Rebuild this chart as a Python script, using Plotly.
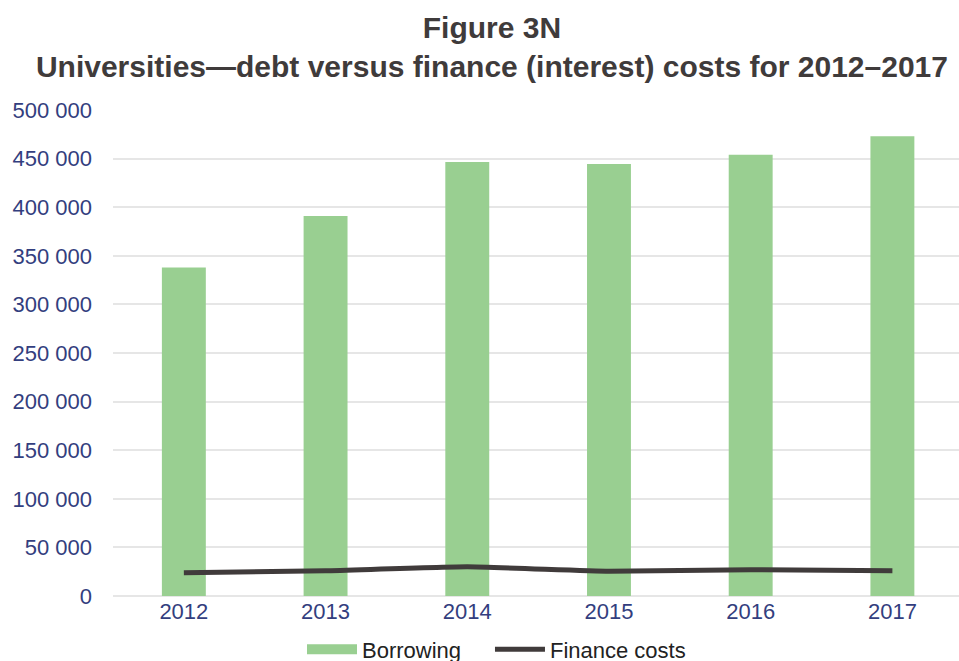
import plotly.graph_objects as go

years = ["2012", "2013", "2014", "2015", "2016", "2017"]
borrowing = [338000, 391000, 446500, 444500, 454000, 473000]
finance_costs = [24000, 26000, 30000, 25500, 27000, 26000]

y_ticks = [0, 50000, 100000, 150000, 200000, 250000, 300000, 350000, 400000, 450000, 500000]

tick_color = "#333E7E"
title_color = "#3F3B3B"
bar_color = "#99CF91"
line_color = "#403B3B"
font_family = "Liberation Sans, Arial, sans-serif"

fig = go.Figure()
fig.add_trace(go.Bar(
    x=years, y=borrowing, name="Borrowing", legendgroup="borrowing",
    showlegend=False,
    marker=dict(color=bar_color, line=dict(width=0)),
))
# Wide swatch for the bar series in the legend
fig.add_trace(go.Scatter(
    x=[None], y=[None], name="Borrowing", legendgroup="borrowing",
    mode="lines", line=dict(color=bar_color, width=16), legend="legend",
))
fig.add_trace(go.Scatter(
    x=years, y=finance_costs, name="Finance costs", mode="lines",
    line=dict(color=line_color, width=5, shape="spline", smoothing=0.4),
    legend="legend2",
))

legend_style = dict(
    orientation="h", xanchor="left", y=-0.11, yanchor="middle",
    font=dict(family=font_family, size=22, color="#222222"),
    bgcolor="rgba(0,0,0,0)", itemwidth=50,
)

fig.update_layout(
    width=959, height=661,
    margin=dict(l=113, r=0, t=110, b=65, autoexpand=False),
    paper_bgcolor="white", plot_bgcolor="white",
    separators=". ",
    font=dict(family=font_family, size=22, color=tick_color),
    title=dict(
        text="<b>Figure 3N<br>Universities—debt versus finance (interest) costs for 2012–2017</b>",
        x=0.513, xanchor="center", xref="container",
        y=0.943, yanchor="top", yref="container",
        font=dict(family=font_family, size=30, color=title_color),
    ),
    bargap=0.69,
    showlegend=True,
    legend=dict(x=0.2234, **legend_style),
    legend2=dict(x=0.4456, **legend_style),
    xaxis=dict(
        type="category", range=[-0.5, 5.47],
        showgrid=False, showline=False, ticks="",
        tickfont=dict(size=22, color=tick_color),
    ),
    yaxis=dict(
        range=[0, 500000], tickvals=y_ticks, tickformat=",d",
        showgrid=True, gridcolor="#E6E6E6", gridwidth=1.5,
        zeroline=True, zerolinecolor="#E6E6E6", zerolinewidth=1.5,
        showline=False, ticks="", ticklabelstandoff=20,
        tickfont=dict(size=22, color=tick_color),
    ),
)

fig.write_html("out.html")
